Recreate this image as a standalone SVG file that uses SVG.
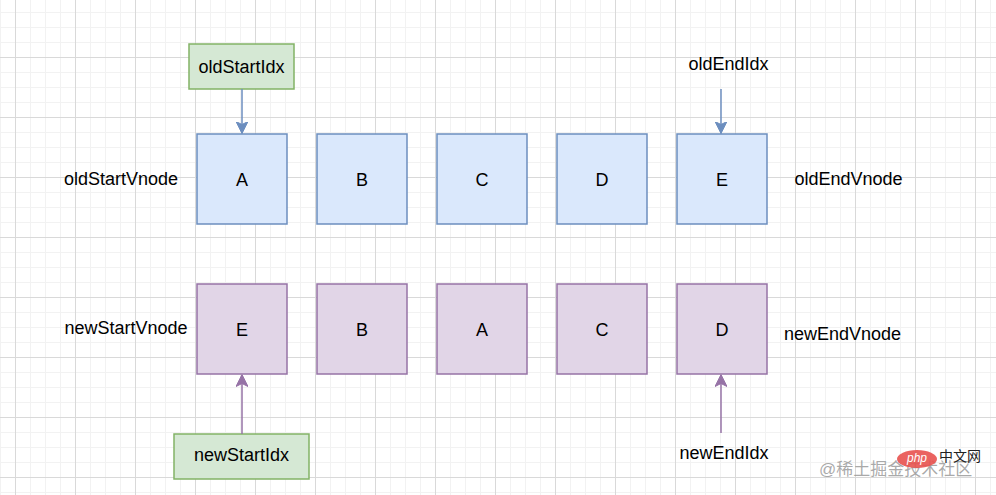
<svg xmlns="http://www.w3.org/2000/svg" width="996" height="495" viewBox="0 0 996 495">
<defs>
<pattern id="minor" x="0" y="12" width="15" height="15" patternUnits="userSpaceOnUse">
<rect x="0" y="0" width="1" height="15" fill="#f2f2f2"/>
<rect x="0" y="0" width="15" height="1" fill="#f2f2f2"/>
</pattern>
<pattern id="major" x="15" y="57" width="60" height="60" patternUnits="userSpaceOnUse">
<rect x="0" y="0" width="1" height="60" fill="#d9d9d9"/>
<rect x="0" y="0" width="60" height="1" fill="#d9d9d9"/>
</pattern>
<marker id="arrBlue" viewBox="0 0 12 12" refX="12" refY="6" markerWidth="12" markerHeight="12" markerUnits="userSpaceOnUse" orient="auto">
<path d="M0,0 L12,6 L0,12 L3,6 Z" fill="#6c8ebf" stroke="#6c8ebf" stroke-width="1"/>
</marker>
<marker id="arrPurple" viewBox="0 0 12 12" refX="12" refY="6" markerWidth="12" markerHeight="12" markerUnits="userSpaceOnUse" orient="auto">
<path d="M0,0 L12,6 L0,12 L3,6 Z" fill="#9673a6" stroke="#9673a6" stroke-width="1"/>
</marker>
</defs>
<style>
text{font-family:"Liberation Sans",Arial,Helvetica,sans-serif;font-size:18px;fill:#000;}
.c{text-anchor:middle;}
.old{fill:#dae8fc;stroke:#6c8ebf;stroke-width:1.5;}
.new{fill:#e1d5e7;stroke:#9673a6;stroke-width:1.5;}
.idx{fill:#d5e8d4;stroke:#82b366;stroke-width:1.5;}
.eb{stroke:#6c8ebf;stroke-width:1.5;fill:none;}
.ep{stroke:#9673a6;stroke-width:1.5;fill:none;}
</style>
<rect width="996" height="495" fill="#ffffff"/>
<rect width="996" height="495" fill="url(#minor)"/>
<rect width="996" height="495" fill="url(#major)"/>

<g id="oldA"><rect class="old" x="197" y="134" width="90" height="90"/><text class="c" x="242" y="185.5">A</text></g>
<g id="oldB"><rect class="old" x="317" y="134" width="90" height="90"/><text class="c" x="362" y="185.5">B</text></g>
<g id="oldC"><rect class="old" x="437" y="134" width="90" height="90"/><text class="c" x="482" y="185.5">C</text></g>
<g id="oldD"><rect class="old" x="557" y="134" width="90" height="90"/><text class="c" x="602" y="185.5">D</text></g>
<g id="oldE"><rect class="old" x="677" y="134" width="90" height="90"/><text class="c" x="722" y="185.5">E</text></g>

<g id="newE"><rect class="new" x="197" y="284" width="90" height="90"/><text class="c" x="242" y="335.5">E</text></g>
<g id="newB"><rect class="new" x="317" y="284" width="90" height="90"/><text class="c" x="362" y="335.5">B</text></g>
<g id="newA"><rect class="new" x="437" y="284" width="90" height="90"/><text class="c" x="482" y="335.5">A</text></g>
<g id="newC"><rect class="new" x="557" y="284" width="90" height="90"/><text class="c" x="602" y="335.5">C</text></g>
<g id="newD"><rect class="new" x="677" y="284" width="90" height="90"/><text class="c" x="722" y="335.5">D</text></g>

<g id="oldStartIdx"><rect class="idx" x="189" y="44" width="105" height="45"/><text class="c" x="241.5" y="73">oldStartIdx</text></g>
<g id="newStartIdx"><rect class="idx" x="174" y="434" width="135" height="45"/><text class="c" x="241.5" y="461">newStartIdx</text></g>
<g id="oldEndIdx"><text class="c" x="728.5" y="69.5">oldEndIdx</text></g>
<g id="newEndIdx"><text class="c" x="724" y="458.5">newEndIdx</text></g>

<g id="oldStartVnode"><text class="c" x="121" y="184.5">oldStartVnode</text></g>
<g id="newStartVnode"><text class="c" x="126" y="333.5">newStartVnode</text></g>
<g id="oldEndVnode"><text class="c" x="848.5" y="184.5">oldEndVnode</text></g>
<g id="newEndVnode"><text class="c" x="842.5" y="339.5">newEndVnode</text></g>

<g id="connectors">
<line class="eb" x1="242" y1="89" x2="242" y2="133.5" marker-end="url(#arrBlue)"/>
<line class="eb" x1="721" y1="89" x2="721" y2="133.5" marker-end="url(#arrBlue)"/>
<line class="ep" x1="242" y1="434" x2="242" y2="374.5" marker-end="url(#arrPurple)"/>
<line class="ep" x1="721" y1="433" x2="721" y2="374.5" marker-end="url(#arrPurple)"/>
</g>

<g id="watermark">
<text x="819" y="475" style="font-family:'Liberation Sans','Noto Sans CJK SC',sans-serif;font-size:17px;fill:#9a9a9a;fill-opacity:0.85">@稀土掘金技术社区</text>
<ellipse cx="917" cy="459" rx="20" ry="9" fill="#e8524f" fill-opacity="0.9"/>
<text x="917" y="462" class="c" style="font-size:12px;font-style:italic;fill:#ffffff">php</text>
<text x="939" y="461" style="font-family:'Noto Sans CJK SC',sans-serif;font-size:14px;fill:#222">中文网</text>
</g>
</svg>
